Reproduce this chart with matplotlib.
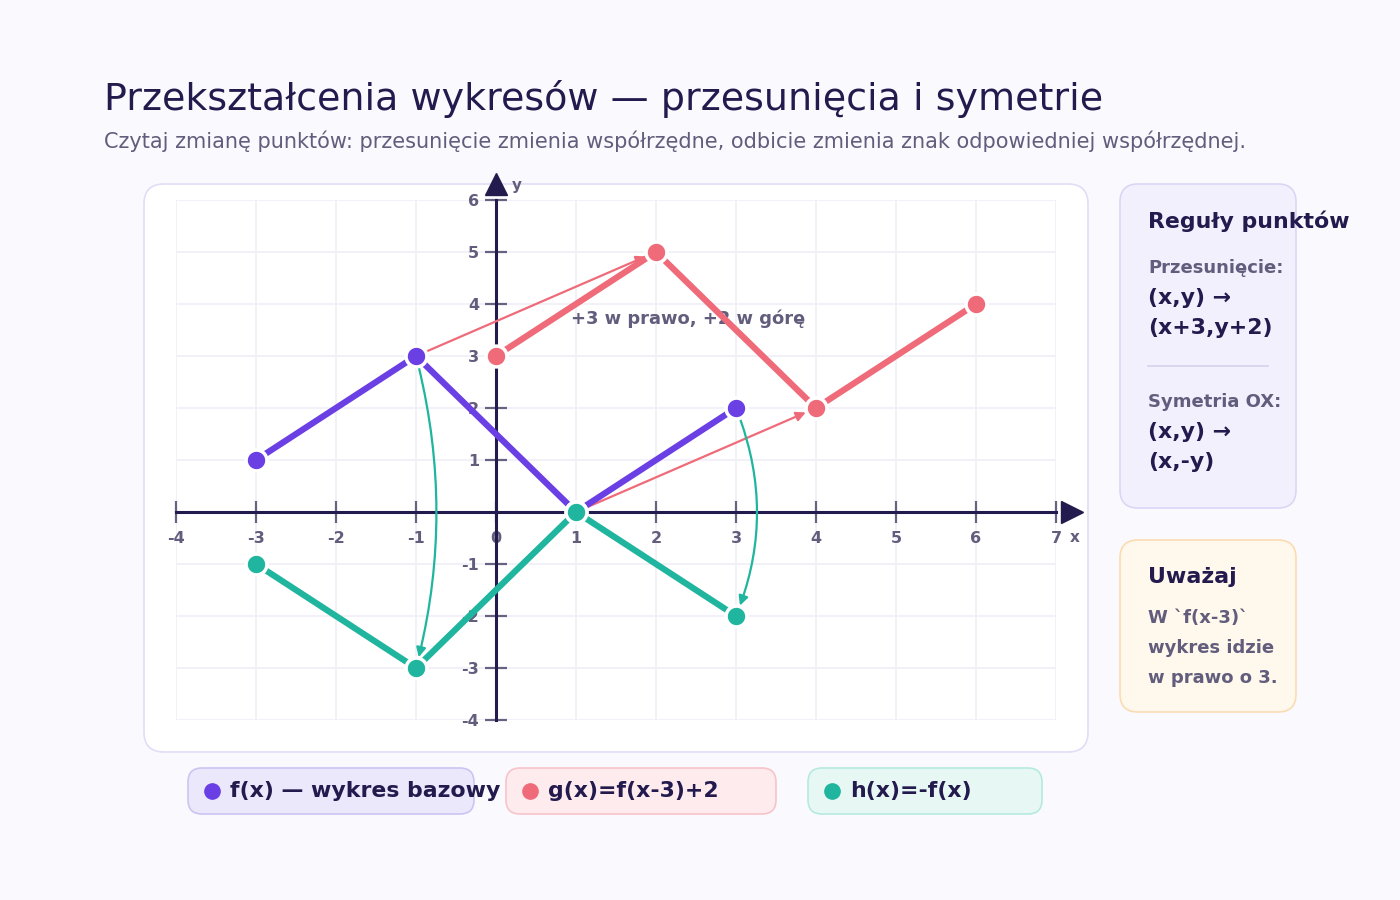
import matplotlib.pyplot as plt
from matplotlib.patches import FancyBboxPatch

plt.rcParams['axes.unicode_minus'] = False

# data
f_x = [-3, -1, 1, 3]
f_y = [1, 3, 0, 2]
g_x = [0, 2, 4, 6]
g_y = [3, 5, 2, 4]
h_x = [-3, -1, 1, 3]
h_y = [-1, -3, 0, -2]

x_ticks = [-4, -3, -2, -1, 0, 1, 2, 3, 4, 5, 6, 7]
y_ticks = [-4, -3, -2, -1, 1, 2, 3, 4, 5, 6]

shift_arrows = [((-1, 3), (2, 5)), ((1, 0), (4, 2))]
flip_arrows = [((-1, 3), (-1, -3), -0.13), ((3, 2), (3, -2), -0.2)]

legend_labels = ["f(x) — wykres bazowy", "g(x)=f(x-3)+2", "h(x)=-f(x)"]

PURPLE = "#6a3fe3"
RED = "#ef6b79"
GREEN = "#20b59e"
DARK = "#231a4d"
GRAY = "#625d7c"
BG = "#f9f9fe"

fig = plt.figure(figsize=(14, 9), dpi=100, facecolor=BG)

# background layer in pixel coords
bg = fig.add_axes([0, 0, 1, 1], zorder=0)
bg.set_xlim(0, 1400)
bg.set_ylim(900, 0)
bg.axis('off')


def box(x0, y0, x1, y1, fc, ec, r=18, lw=1.2):
    p = FancyBboxPatch((x0, y0), x1 - x0, y1 - y0,
                       boxstyle=f"round,pad=0,rounding_size={r}",
                       fc=fc, ec=ec, lw=lw)
    bg.add_patch(p)


bg.text(104, 99, "Przekształcenia wykresów — przesunięcia i symetrie",
        fontsize=27.4, color=DARK, va='center', ha='left')
bg.text(104, 141, "Czytaj zmianę punktów: przesunięcie zmienia współrzędne, "
        "odbicie zmienia znak odpowiedniej współrzędnej.",
        fontsize=15, color=GRAY, va='center', ha='left')

# main card
box(144, 184, 1088, 752, "#ffffff", "#e1ddf5", r=20)

# rules panel
box(1120, 184, 1296, 508, "#f3f0fe", "#dcd6f6")
bg.text(1148, 221, "Reguły punktów", fontsize=15.8, fontweight='bold', color=DARK, va='center')
bg.text(1148, 268, "Przesunięcie:", fontsize=13, fontweight='bold', color=GRAY, va='center')
bg.text(1148, 298, "(x,y) →", fontsize=15.8, fontweight='bold', color=DARK, va='center')
bg.text(1148, 328, "(x+3,y+2)", fontsize=15.8, fontweight='bold', color=DARK, va='center')
bg.plot([1148, 1268], [366, 366], color="#d6d1ee", lw=1.2)
bg.text(1148, 402, "Symetria OX:", fontsize=13, fontweight='bold', color=GRAY, va='center')
bg.text(1148, 432, "(x,y) →", fontsize=15.8, fontweight='bold', color=DARK, va='center')
bg.text(1148, 462, "(x,-y)", fontsize=15.8, fontweight='bold', color=DARK, va='center')

# warning panel
box(1120, 540, 1296, 712, "#fff8ec", "#fbdcb2")
bg.text(1148, 577, "Uważaj", fontsize=15.9, fontweight='bold', color=DARK, va='center')
for i, line in enumerate(["W `f(x-3)`", "wykres idzie", "w prawo o 3."]):
    bg.text(1148, 618 + 30 * i, line, fontsize=13, fontweight='bold', color=GRAY, va='center')

# legend pills
pills = [(188, 474, "#ece8fc", "#cdc4f3", PURPLE),
         (506, 776, "#fdebee", "#f8c4cb", RED),
         (808, 1042, "#e7f8f4", "#b6eadf", GREEN)]
for (x0, x1, fc, ec, col), lab in zip(pills, legend_labels):
    box(x0, 768, x1, 814, fc, ec, r=14)
    bg.plot(x0 + 24, 791, 'o', ms=11, color=col)
    bg.text(x0 + 42, 791, lab, fontsize=15.8, fontweight='bold', color=DARK, va='center')

# coordinate plane
ax = fig.add_axes([176 / 1400, 180 / 900, 880 / 1400, 520 / 900], zorder=2)
ax.set_facecolor('none')
ax.set_xlim(-4, 7)
ax.set_ylim(-4, 6)

for v in range(-4, 8):
    ax.axvline(v, color="#efeff6", lw=1.2, zorder=0)
for v in range(-4, 7):
    ax.axhline(v, color="#efeff6", lw=1.2, zorder=0)

ax.spines['left'].set_position(('data', 0))
ax.spines['bottom'].set_position(('data', 0))
ax.spines['right'].set_visible(False)
ax.spines['top'].set_visible(False)
for s in ('left', 'bottom'):
    ax.spines[s].set_color(DARK)
    ax.spines[s].set_linewidth(2.2)
ax.set_xticks(x_ticks)
ax.set_yticks(y_ticks)
ax.tick_params(direction='inout', length=16, width=1.6, color="#67627f",
               labelsize=11.5, labelcolor=GRAY)
ax.tick_params(axis='x', pad=6)
ax.tick_params(axis='y', pad=4)
for lbl in ax.get_xticklabels() + ax.get_yticklabels():
    lbl.set_fontweight('bold')

ax.plot(7.2, 0, marker='>', ms=16, color=DARK, clip_on=False, zorder=3)
ax.plot(0, 6.3, marker='^', ms=16, color=DARK, clip_on=False, zorder=3)
ax.text(7.17, -0.5, "x", fontsize=11, fontweight='bold', color=GRAY, va='center')
ax.text(0.2, 6.27, "y", fontsize=11, fontweight='bold', color=GRAY, va='center')

ax.text(0.94, 3.71, "+3 w prawo, +2 w górę", fontsize=12.9, fontweight='bold',
        color=GRAY, va='center', ha='left', zorder=3)

for (p0, p1) in shift_arrows:
    ax.annotate('', xy=p1, xytext=p0, zorder=4,
                arrowprops=dict(arrowstyle='-|>', color=RED, lw=1.6,
                                mutation_scale=14, shrinkA=8, shrinkB=8))
for (p0, p1, rad) in flip_arrows:
    ax.annotate('', xy=p1, xytext=p0, zorder=4,
                arrowprops=dict(arrowstyle='-|>', color=GREEN, lw=1.6,
                                mutation_scale=14, shrinkA=8, shrinkB=8,
                                connectionstyle=f"arc3,rad={rad}"))

for xs, ys, col in [(f_x, f_y, PURPLE), (g_x, g_y, RED), (h_x, h_y, GREEN)]:
    ax.plot(xs, ys, color=col, lw=4.5, solid_capstyle='round', zorder=5,
            marker='o', ms=15, mfc=col, mec='white', mew=2.5, clip_on=False)

fig.savefig("out.png", dpi=100, facecolor=BG)
